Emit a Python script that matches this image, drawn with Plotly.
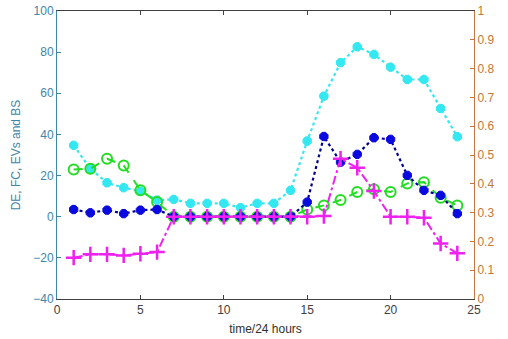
import plotly.graph_objects as go

hours = list(range(1, 25))
ev_cyan = [34.7, 23.3, 16.5, 14.1, 12.4, 8.1, 8.4, 6.5, 6.5, 6.5, 4.4, 6.5,
           6.5, 12.8, 36.8, 58.6, 74.9, 82.6, 78.9, 72.7, 66.7, 66.7, 52.6, 38.9]
de_blue = [3.5, 1.9, 3.2, 1.5, 3.2, 3.5, 0, 0, 0, 0, 0, 0,
           0, 0, 7.1, 39.0, 26.5, 30.3, 38.4, 37.6, 20.1, 12.8, 10.4, 1.5]
bs_magenta = [-19.9, -18.3, -18.3, -18.8, -18.0, -17.2, 0, 0, 0, 0, 0, 0,
              0, 0, 0, 0.3, 28.2, 23.8, 12.5, 0, 0, -0.5, -13.0, -17.8]
fc_green = [23.0, 23.3, 28.2, 24.9, 12.9, 7.1, 0, 0, 0, 0, 0, 0,
            0, 0, 3.5, 5.5, 8.1, 12.0, 13.3, 12.0, 16.2, 16.8, 9.2, 5.5]

left_color = "#3f86a8"
right_color = "#c0783c"
axis_dark = "#404040"
font_family = "Liberation Sans, Arial, sans-serif"

fig = go.Figure()
fig.add_trace(go.Scatter(
    x=hours, y=ev_cyan, mode="lines+markers",
    line=dict(color="#33e8f0", width=2.2, dash="dot"),
    marker=dict(symbol="octagon", size=9, color="#33e8f0",
                line=dict(color="#33e8f0", width=1)),
    showlegend=False))
fig.add_trace(go.Scatter(
    x=hours, y=fc_green, mode="lines+markers",
    line=dict(color="#22dd22", width=2, dash="dash"),
    marker=dict(symbol="circle-open", size=10, color="#22dd22", line=dict(width=2)),
    showlegend=False))
fig.add_trace(go.Scatter(
    x=hours, y=de_blue, mode="lines+markers",
    line=dict(color="#000090", width=2.2, dash="dot"),
    marker=dict(symbol="octagon", size=9, color="#0a0ae0",
                line=dict(color="#0a0ae0", width=1)),
    showlegend=False))
fig.add_trace(go.Scatter(
    x=hours, y=bs_magenta, mode="lines+markers",
    line=dict(color="#ee22ee", width=2, dash="dashdot"),
    marker=dict(symbol="cross-thin-open", size=11, color="#ee22ee", line=dict(width=2.5)),
    showlegend=False))
fig.add_trace(go.Scatter(
    x=[None], y=[None], yaxis="y2", showlegend=False, hoverinfo="skip"))

fig.update_layout(
    width=508, height=339,
    margin=dict(l=57, r=34, t=11, b=40, autoexpand=False),
    paper_bgcolor="white", plot_bgcolor="white",
    font=dict(family=font_family, size=11),
    xaxis=dict(
        range=[0, 25], tickvals=[0, 5, 10, 15, 20, 25],
        ticks="inside", ticklen=4, tickcolor=axis_dark,
        showline=True, linecolor=axis_dark, linewidth=1, mirror="ticks",
        showgrid=False, zeroline=False, automargin=False,
        tickfont=dict(color="#404040", size=12),
        title=dict(text="time/24 hours", font=dict(color="#303030", size=12), standoff=8),
    ),
    yaxis=dict(
        range=[-40, 100], tickvals=[-40, -20, 0, 20, 40, 60, 80, 100],
        ticks="inside", ticklen=4, tickcolor=left_color,
        showline=True, linecolor=left_color, linewidth=1,
        showgrid=False, zeroline=False, automargin=False,
        tickfont=dict(color=left_color, size=12),
        title=dict(text="DE, FC, EVs and BS", font=dict(color=left_color, size=12), standoff=10),
    ),
    yaxis2=dict(
        range=[0, 1], tickvals=[0, 0.1, 0.2, 0.3, 0.4, 0.5, 0.6, 0.7, 0.8, 0.9, 1],
        ticktext=["0", "0.1", "0.2", "0.3", "0.4", "0.5", "0.6", "0.7", "0.8", "0.9", "1"],
        overlaying="y", side="right", anchor="x",
        ticks="inside", ticklen=4, tickcolor=right_color,
        showline=True, linecolor=right_color, linewidth=1,
        showgrid=False, zeroline=False, automargin=False,
        tickfont=dict(color=right_color, size=12),
    ),
)

fig.write_html("out.html", config={"displayModeBar": False},
               post_script="document.body.style.margin='0';")
